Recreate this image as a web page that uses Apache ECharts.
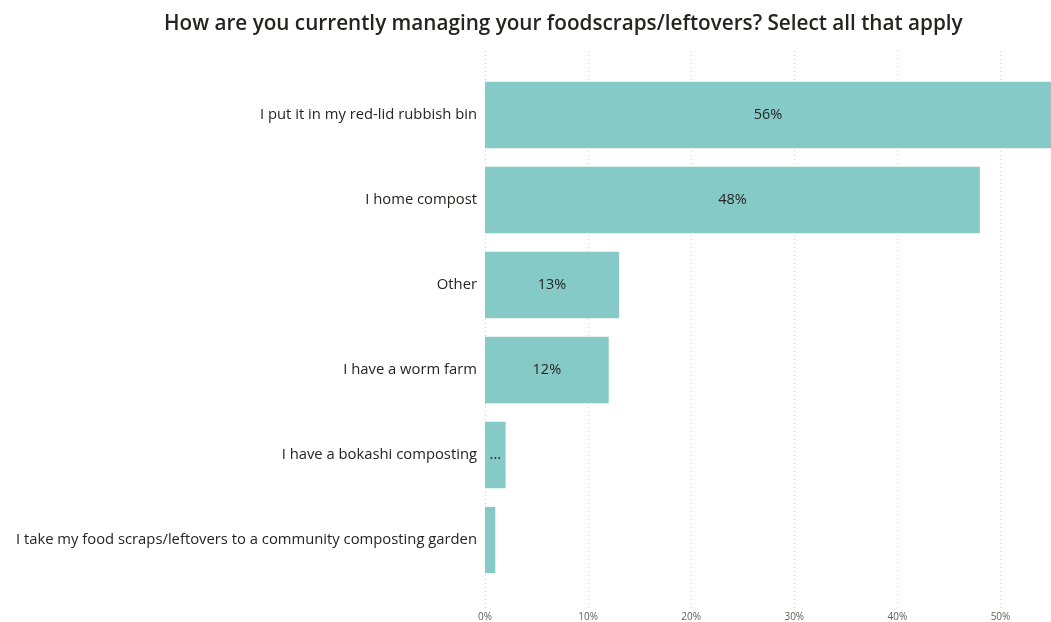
<!DOCTYPE html>
<html>
<head>
<meta charset="utf-8">
<script src="https://cdn.jsdelivr.net/npm/echarts@6/dist/echarts.min.js"></script>
<style>
  html, body { margin: 0; padding: 0; background: #ffffff; }
  #chart { width: 1051px; height: 622px; }
</style>
</head>
<body>
<div id="chart"></div>
<script>
// Survey responses (share of respondents, %)
const categories = [
  'I put it in my red-lid rubbish bin',
  'I home compost',
  'Other',
  'I have a worm farm',
  'I have a bokashi composting',
  'I take my food scraps/leftovers to a community composting garden'
];
const shares = [56, 48, 13, 12, 2, 1];
const tickValues = [0, 10, 20, 30, 40, 50];

const FONT = '"Open Sans", "Noto Sans", sans-serif';
const AXIS_MAX = 54.9;

const chart = echarts.init(document.getElementById('chart'), null, { renderer: 'canvas' });

chart.setOption({
  animation: false,
  backgroundColor: '#ffffff',
  title: {
    text: 'How are you currently managing your foodscraps/leftovers? Select all that apply',
    left: 159,
    top: 9,
    textStyle: { fontFamily: FONT, fontSize: 20.7, fontWeight: 600, color: '#252423' }
  },
  grid: [
    // bars
    { left: 485, right: 0, top: 72.5, bottom: 39.5, containLabel: false },
    // gridlines and tick labels
    { left: 485, right: 0, top: 51, bottom: 14, containLabel: false }
  ],
  xAxis: [
    {
      gridIndex: 0, type: 'value', min: 0, max: AXIS_MAX,
      show: false, splitLine: { show: false }
    },
    {
      gridIndex: 1, type: 'value', min: 0, max: AXIS_MAX, interval: 10,
      axisLine: { show: false }, axisTick: { show: false },
      axisLabel: {
        margin: 4, fontFamily: FONT, fontSize: 10, color: '#605E5C',
        showMaxLabel: false,
        formatter: v => tickValues.includes(v) ? v + '%' : ''
      },
      splitLine: { show: true, lineStyle: { color: '#D6D6D6', type: [1, 3], width: 1 } }
    }
  ],
  yAxis: [
    {
      gridIndex: 0, type: 'category', data: categories, inverse: true,
      axisLine: { show: false }, axisTick: { show: false },
      axisLabel: { margin: 8, fontFamily: FONT, fontSize: 14.8, color: '#252423' }
    },
    { gridIndex: 1, type: 'value', show: false, splitLine: { show: false } }
  ],
  series: [{
    type: 'bar',
    xAxisIndex: 0, yAxisIndex: 0,
    data: shares,
    barCategoryGap: '22%',
    clip: true,
    z: 3,
    itemStyle: { color: '#86CAC8' },
    label: {
      show: true, position: 'inside',
      fontFamily: FONT, fontSize: 14.5, color: '#252423',
      formatter: p => p.value >= 5 ? p.value + '%' : (p.value >= 2 ? '...' : '')
    }
  }]
});
</script>
</body>
</html>
